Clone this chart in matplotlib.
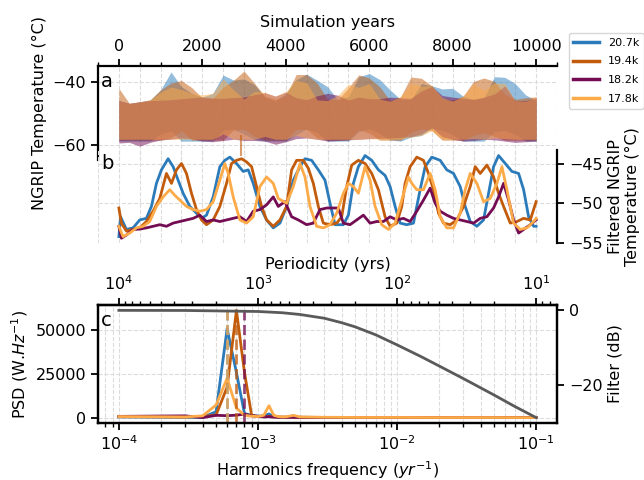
import matplotlib.pyplot as plt
from matplotlib.ticker import MultipleLocator
import numpy as np

plt.rcParams['font.family'] = 'DejaVu Sans'
plt.rcParams['font.size'] = 11.5
plt.rcParams['axes.linewidth'] = 1.6

labels = ['20.7k', '19.4k', '18.2k', '17.8k']
colors = ['#2b7bba', '#c25b0b', '#730c52', '#fdaa48']

# ---- panel a : envelope of the raw NGRIP temperature (every 250 yrs)
a_years = np.arange(0, 10001, 250)
a_high = {
    '20.7k': [-46, -46.8, -46.3, -45.7, -42.5, -36.8, -41.5, -43.6, -44.8, -43.6, -37.8, -39.4, -39, -40.8,
              -44.8, -46, -43.6, -39.3, -37.5, -39.4, -41.5, -45.7, -44.6, -38.3, -37.3, -39.2, -42.5, -45.5,
              -45.6, -40.5, -41.2, -42.2, -42, -44.5, -45.6, -45, -38.3, -38.5, -40.5, -44.1, -45.9],
    '19.4k': [-42, -46.8, -46.3, -45.7, -42.5, -40.3, -39.5, -41.8, -45.1, -45.2, -41.7, -39.4, -36.5, -40.4,
              -44.5, -45.5, -44.3, -37.6, -37.6, -40.3, -45.5, -45.6, -41.9, -37.7, -38.7, -41.5, -45.9, -44.7,
              -38.4, -38.8, -41.2, -45.3, -45.7, -44.5, -39.8, -38.7, -39.8, -43.9, -45.5, -45, -44.7],
    '18.2k': [-45.9, -46.8, -46.3, -45.9, -45.8, -45.6, -45.3, -45, -44.7, -45.1, -45.2, -44.9, -44.8, -44,
              -43.4, -44.5, -43.2, -45, -45.6, -44.4, -43.6, -44.2, -45.7, -44.8, -45.3, -45.3, -44.8, -45,
              -45.2, -42.8, -41.4, -44.3, -44.8, -45.2, -45.5, -44.8, -43.8, -41.2, -46, -45.9, -45.1],
    '17.8k': [-46, -46.8, -46.3, -45.7, -43.2, -41.6, -42.4, -43.6, -44.1, -43.6, -39, -42.5, -45.4, -43,
              -43.3, -44.5, -43, -39.5, -40.2, -45.7, -45.9, -44.2, -40.7, -41.7, -40.5, -45.4, -46.1, -44.7,
              -40.5, -41.3, -41.2, -45, -46.1, -44.5, -40.5, -42.7, -40.3, -40.5, -46, -46.1, -44.9],
}
a_low = {
    '20.7k': [-58.8, -58.8, -58.8, -58.8, -56.5, -55.5, -58.8, -58.8, -58.8, -58.8, -55.3, -55.1, -56.5, -58.3,
              -58.8, -58.8, -58.8, -56.8, -54.9, -56.1, -58.8, -58.8, -58.8, -55.8, -54.8, -56.4, -58.4, -58.8,
              -57.5, -57, -54.7, -55.4, -56.7, -58.8, -58.8, -58.8, -55.8, -55.4, -56.6, -58.8, -58.8],
    '19.4k': [-58.5, -58.5, -58.5, -58.5, -58.5, -57.8, -55.5, -58.5, -58.5, -58.5, -58.5, -55.2, -55, -57.3,
              -58.5, -58.5, -58.5, -55.1, -55.1, -57.8, -58.5, -58.5, -58.5, -55.2, -56.2, -58.5, -58.5, -58.5,
              -55.9, -54.9, -55.5, -58.5, -58.5, -58.5, -56.9, -56.2, -57.3, -58.5, -58.5, -58.5, -58.5],
    '18.2k': [-59.4, -59.2, -60.4, -59.2, -58.4, -58.2, -57.8, -58, -58.8, -59, -58.6, -58.2, -58.6, -58.6,
              -58.8, -59.8, -59, -58, -57.8, -58.2, -58.8, -58.6, -58.4, -58.2, -58, -57.9, -57.8, -57.6,
              -57.4, -56.5, -54.5, -57.4, -58.2, -58.8, -58.6, -58.2, -58.4, -58.8, -59.2, -59, -58.8],
    '17.8k': [-58.2, -58.2, -58.2, -58.2, -58.2, -58.2, -58.2, -58.2, -58.2, -58.2, -56.5, -58.2, -58.2, -58.2,
              -57.3, -58.2, -58.2, -57.0, -57.7, -58.2, -58.2, -58.2, -58.2, -58.2, -58.0, -58.2, -58.2, -58.2,
              -57.5, -57, -55.5, -58.2, -58.2, -58.2, -58.0, -58.2, -57.8, -58.0, -58.2, -58.2, -58.2],
}
# single cold outlier near year 2930 (19.4k run)
a_spike_year = [2930]
a_spike_low = [-63.5]
a_spike_high = [-57]

# ---- panel b : filtered NGRIP temperature
b_years = {
    '20.7k': [0, 40, 180, 340, 500, 660, 780, 900, 1020, 1180, 1300, 1420, 1540, 1700, 1860, 1980, 2100, 2260,
              2420, 2540, 2660, 2820, 2980, 3100, 3220, 3380, 3540, 3700, 3860, 4020, 4180, 4340, 4460, 4620,
              4780, 4940, 5060, 5180, 5380, 5500, 5620, 5740, 5900, 6060, 6220, 6380, 6500, 6620, 6740, 6900,
              7060, 7220, 7340, 7500, 7700, 7860, 8020, 8180, 8300, 8420, 8580, 8740, 8860, 8980, 9100, 9260,
              9420, 9580, 9700, 9820, 9940, 10000],
    '19.4k': [0, 60, 180, 340, 500, 660, 820, 980, 1140, 1260, 1380, 1500, 1620, 1740, 1860, 1980, 2100, 2260,
              2420, 2580, 2700, 2820, 2940, 3060, 3180, 3300, 3420, 3540, 3700, 3860, 4020, 4140, 4260, 4420,
              4540, 4660, 4780, 4900, 5060, 5220, 5340, 5460, 5580, 5740, 5900, 6060, 6220, 6380, 6500, 6660,
              6780, 6860, 6980, 7140, 7300, 7420, 7540, 7660, 7780, 7940, 8100, 8260, 8420, 8540, 8660, 8820,
              8980, 9100, 9220, 9380, 9540, 9700, 9860, 10000],
    '18.2k': [0, 60, 180, 340, 500, 660, 820, 980, 1140, 1300, 1460, 1620, 1780, 1940, 2100, 2260, 2420, 2580,
              2740, 2900, 3060, 3220, 3380, 3540, 3700, 3820, 3980, 4140, 4300, 4500, 4660, 4820, 4980, 5140,
              5260, 5380, 5540, 5700, 5860, 6020, 6180, 6340, 6500, 6660, 6820, 6980, 7140, 7300, 7460, 7580,
              7700, 7860, 8020, 8180, 8340, 8500, 8660, 8820, 8980, 9100, 9220, 9340, 9460, 9580, 9700, 9860,
              10000],
    '17.8k': [0, 100, 260, 420, 580, 740, 900, 1060, 1220, 1340, 1460, 1620, 1780, 1940, 2100, 2260, 2420, 2540,
              2620, 2740, 2900, 3060, 3220, 3380, 3540, 3700, 3820, 4020, 4180, 4340, 4460, 4580, 4740, 4900,
              5060, 5220, 5380, 5500, 5620, 5740, 5900, 6020, 6140, 6300, 6460, 6620, 6780, 6940, 7020, 7140,
              7300, 7460, 7580, 7700, 7860, 8020, 8180, 8300, 8420, 8580, 8740, 8900, 9060, 9180, 9300, 9460,
              9620, 9780, 9940, 10000],
}
b_temp = {
    '20.7k': [-54.2, -51.7, -53.3, -53.1, -52.1, -51.9, -50.4, -47.5, -45.8, -44.4, -45.4, -47.1, -48.75, -50.4,
              -51.25, -51.9, -51.5, -49.2, -45.4, -44.6, -44.2, -45, -46, -45.8, -47.5, -50.4, -52.1, -53.1,
              -52.5, -50.4, -47.1, -45.4, -44.4, -44.6, -45.8, -47.1, -50, -52.7, -52.7, -51.5, -47.5, -45.4,
              -44.0, -44.6, -45.8, -46.5, -47.9, -50.4, -52.5, -52.7, -52.5, -48.3, -45.4, -44.2, -44.6, -45.8,
              -46.25, -47.9, -50.4, -52.3, -52.9, -52.1, -48.75, -45.4, -44.0, -45, -46, -46.25, -48.3, -51.7,
              -52.9, -52.9],
    '19.4k': [-50.6, -52.5, -53.5, -53.3, -53.1, -52.3, -51, -49.4, -46.25, -47.5, -45.8, -45, -46.25, -48.75,
              -50.8, -52.1, -52.7, -52.1, -50.4, -47.5, -45, -44.6, -44.4, -44.8, -45.4, -47.9, -50.4, -52.1,
              -52.9, -52.1, -50.4, -45.8, -44.6, -44.6, -45.6, -47.5, -50.4, -52.5, -52.7, -52.5, -51.7, -47.9,
              -45.2, -44.6, -45, -46.25, -48.3, -51.7, -52.9, -52.5, -50.4, -47.5, -45.4, -44.2, -44.6, -46.25,
              -48.3, -51.25, -52.5, -52.7, -52.1, -50.4, -47.9, -45.4, -46.25, -45.2, -46.7, -48.75, -50.4, -52.5,
              -52.3, -51.9, -52.1, -49.8],
    '18.2k': [-52.9, -54.4, -54, -53.3, -53.25, -53.1, -52.9, -52.7, -52.9, -52.5, -52.3, -52.1, -51.9, -51.5,
              -52.3, -52.1, -52.3, -52.1, -51.9, -51.7, -52.3, -51, -50.8, -50.2, -49.2, -50.4, -49.8, -51.7,
              -52.1, -52.7, -52.5, -50.8, -50.6, -50.6, -50.6, -52.5, -52.7, -52.1, -51.5, -52.5, -52.3, -52.3,
              -51.7, -52.1, -51.9, -52.3, -51, -49.6, -48.1, -50, -51, -51.5, -51.9, -52.1, -52.3, -52.5, -51.9,
              -51.7, -50.6, -49.2, -47.5, -49.6, -52.1, -53.75, -53.3, -52.7, -52.1],
    '17.8k': [-52.9, -54.2, -53.75, -53.1, -52.9, -52.3, -50.4, -49.2, -48.3, -49, -49.6, -50.4, -50.8, -51,
              -50.8, -49.8, -47.1, -45, -46.25, -49.2, -52.1, -52.5, -51.7, -47.9, -46.7, -47.5, -49.4, -50,
              -47.9, -45, -46.7, -50.4, -52.9, -53.1, -52.7, -51.25, -48.75, -47.5, -47.9, -48.75, -45.4, -47.1,
              -50.4, -52.7, -53.3, -52.5, -49.6, -46.7, -47.5, -48.3, -48.3, -46.25, -48.3, -51.7, -53.1, -53.1,
              -51.25, -48.3, -46.25, -47.5, -49.8, -49.4, -47.5, -45.4, -48.3, -52.5, -53.3, -53.1, -52.3, -51.9],
}

# ---- panel c : power spectra and filter response
psd_freq = [1e-4, 2e-4, 3e-4, 4e-4, 5e-4, 6e-4, 7e-4, 8e-4, 9e-4, 1e-3, 1.1e-3, 1.2e-3, 1.3e-3, 1.4e-3,
            1.5e-3, 1.6e-3, 1.8e-3, 2e-3, 3e-3, 5e-3, 1e-2, 2e-2, 5e-2, 1e-1]
psd = {
    '20.7k': [600, 500, 400, 300, 3600, 51000, 26000, 2500, 1500, 1000, 1200, 2300, 800, 500, 400, 400, 500,
              400, 300, 300, 250, 200, 200, 200],
    '19.4k': [700, 600, 500, 800, 1700, 17600, 61500, 26000, 1500, 800, 700, 900, 600, 500, 400, 400, 400,
              350, 300, 250, 250, 200, 200, 200],
    '18.2k': [900, 1100, 1200, 200, 1500, 1300, 1600, 2200, 1200, 1000, 600, 700, 500, 400, 400, 400, 400,
              350, 300, 300, 250, 250, 200, 200],
    '17.8k': [800, 700, 600, 1200, 7400, 22700, 5700, 1500, 1000, 800, 1500, 7000, 1500, 800, 600, 700, 1500,
              600, 400, 300, 300, 250, 250, 200],
}
filt_freq = [1e-4, 3e-4, 1e-3, 1.5e-3, 2e-3, 3e-3, 4e-3, 5e-3, 7e-3, 1e-2, 1.5e-2, 2e-2, 3e-2, 5e-2, 7e-2, 1e-1]
filt_db = [0, -0.03, -0.3, -0.64, -1.1, -2.1, -3.3, -4.4, -6.5, -9.2, -12.4, -14.8, -18.2, -22.6, -25.6, -28.6]
period_ticks = [1e4, 1e3, 1e2, 1e1]

grid_kw = dict(color='#dcdcdc', linestyle='--', linewidth=0.8)
tick_kw = dict(direction='out', labelsize=11.5)

fig = plt.figure(figsize=(6.44, 4.8), dpi=100)

# panel a
ax_a = fig.add_axes([0.1522, 0.6667, 0.7127, 0.1958])
for lab, col in zip(labels, colors):
    ax_a.fill_between(a_years, a_low[lab], a_high[lab], color=col, alpha=0.5, lw=0)
ax_a.vlines(a_spike_year, a_spike_low, a_spike_high, color=colors[1], alpha=0.6, lw=1.5)
ax_a.set_xlim(-500, 10500)
ax_a.set_ylim(-64.8, -34.9)
ax_a.xaxis.tick_top()
ax_a.xaxis.set_label_position('top')
ax_a.xaxis.set_major_locator(MultipleLocator(2000))
ax_a.xaxis.set_minor_locator(MultipleLocator(500))
ax_a.set_yticks([-40, -60])
ax_a.spines['bottom'].set_visible(False)
ax_a.spines['right'].set_visible(False)
ax_a.tick_params(which='major', length=5, width=1.3, **tick_kw)
ax_a.tick_params(which='minor', length=3, width=1.0, direction='out')
ax_a.grid(which='both', **grid_kw)
ax_a.set_axisbelow(True)
ax_a.set_xlabel('Simulation years', labelpad=9)
ax_a.set_ylabel('NGRIP Temperature (°C)')
ax_a.text(0.006, 0.83, 'a', transform=ax_a.transAxes, fontsize=14, ha='left', va='center')

# panel b
ax_b = fig.add_axes([0.1522, 0.4938, 0.7127, 0.1937])
ax_b.set_facecolor('none')
lines = []
for lab, col in zip(labels, colors):
    ln, = ax_b.plot(b_years[lab], b_temp[lab], color=col, lw=2, label=lab)
    lines.append(ln)
ax_b.set_xlim(-500, 10500)
ax_b.set_ylim(-55, -43.3)
ax_b.xaxis.set_major_locator(MultipleLocator(2000))
ax_b.xaxis.set_minor_locator(MultipleLocator(500))
ax_b.tick_params(axis='x', which='both', length=0, labelbottom=False)
ax_b.yaxis.tick_right()
ax_b.yaxis.set_label_position('right')
ax_b.set_yticks([-45, -50, -55])
ax_b.tick_params(axis='y', which='major', length=5, width=1.3, **tick_kw)
for s in ['left', 'top', 'bottom']:
    ax_b.spines[s].set_visible(False)
ax_b.grid(which='both', **grid_kw)
ax_b.set_axisbelow(True)
ax_b.set_ylabel('Filtered NGRIP\nTemperature (°C)')
ax_b.text(0.006, 0.86, 'b', transform=ax_b.transAxes, fontsize=14, ha='left', va='center')

# panel c
ax_c = fig.add_axes([0.1522, 0.1188, 0.7127, 0.2458])
ax_c.set_xscale('log')
for lab, col in zip(labels, colors):
    ax_c.plot(psd_freq, psd[lab], color=col, lw=2)
for lab, col in zip(labels, colors):
    peak = psd_freq[int(np.argmax(psd[lab]))]
    ax_c.axvline(peak, color=col, ls='--', lw=2, alpha=0.75)
ax_c.set_yticks([0, 25000, 50000])
ax_c.tick_params(which='major', length=5, width=1.3, **tick_kw)
ax_c.tick_params(which='minor', length=3, width=1.0, direction='out')
ax_c.grid(which='both', **grid_kw)
ax_c.set_axisbelow(True)
ax_c.set_xlabel('Harmonics frequency ($yr^{-1}$)')
ax_c.set_ylabel('PSD (W.$Hz^{-1}$)')
ax_c.text(0.006, 0.87, 'c', transform=ax_c.transAxes, fontsize=14, ha='left', va='center')

ax_f = ax_c.twinx()
ax_f.plot(filt_freq, filt_db, color='#5a5a5a', lw=2)
ax_f.set_yticks([0, -20])
ax_f.tick_params(which='major', length=5, width=1.3, **tick_kw)
ax_f.set_ylabel('Filter (dB)')

sec = ax_c.secondary_xaxis('top', functions=(lambda f: 1 / f, lambda p: 1 / p))
sec.set_xticks(period_ticks)
sec.tick_params(which='major', length=5, width=1.3, **tick_kw)
sec.tick_params(which='minor', length=3, width=1.0, direction='out')
sec.set_xlabel('Periodicity (yrs)')

fig.legend(lines, labels, loc='upper left', bbox_to_anchor=(0.8835, 0.931), borderaxespad=0,
           fontsize=8, handlelength=2.3, labelspacing=0.8)
for h in fig.legends[0].get_lines():
    h.set_linewidth(2.5)

plt.savefig('out.png', dpi=100)
